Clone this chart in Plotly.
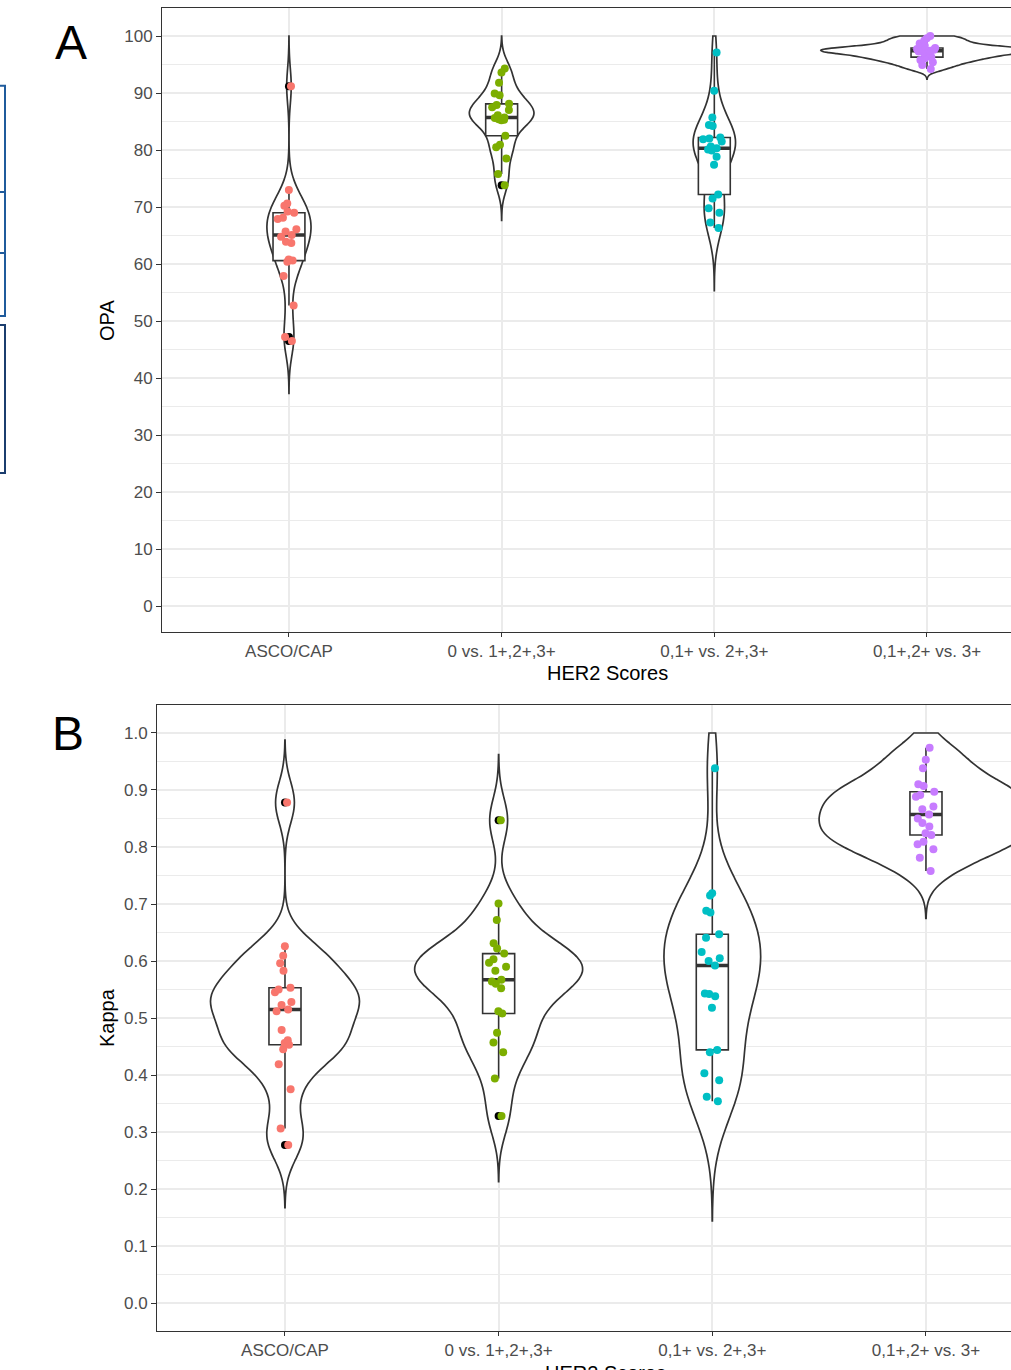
import numpy as np
import plotly.graph_objects as go

# ---------------- data ----------------
categories = ["ASCO/CAP", "0 vs. 1+,2+,3+", "0,1+ vs. 2+,3+", "0,1+,2+ vs. 3+"]
group_colors = ["#F8766D", "#7CAE00", "#00BFC4", "#C77CFF"]

opa_asco = [46.5, 47.2, 52.7, 57.9, 60.4, 60.6, 60.8, 63.7, 63.9, 64.8, 65.1,
            65.7, 66.1, 67.9, 68.1, 69.0, 69.2, 70.2, 70.6, 73.0, 91.2]
opa_0 = [73.8, 75.8, 78.5, 80.5, 80.9, 82.5, 85.2, 85.3, 85.4, 85.6, 85.7,
         86.1, 87.0, 87.5, 87.9, 88.1, 89.6, 89.9, 91.8, 93.6, 94.3]
opa_01 = [66.3, 67.3, 69.0, 69.8, 71.5, 72.2, 77.4, 78.8, 79.9, 80.1, 80.3,
          80.6, 81.5, 81.9, 82.0, 82.2, 84.2, 84.4, 85.7, 90.4, 97.1]
opa_012 = [94.2, 94.9, 95.4, 95.8, 96.1, 96.3, 96.6, 96.9, 97.1, 97.3, 97.4,
           97.5, 97.6, 97.7, 97.8, 97.9, 98.3, 98.7, 99.2, 99.6, 100.0]

kappa_asco = [0.277, 0.306, 0.375, 0.419, 0.445, 0.453, 0.456, 0.461, 0.479, 0.512, 0.515,
              0.523, 0.528, 0.545, 0.550, 0.553, 0.583, 0.596, 0.609, 0.626, 0.878]
kappa_0 = [0.328, 0.394, 0.440, 0.457, 0.474, 0.508, 0.512, 0.552, 0.560, 0.564, 0.567,
           0.583, 0.590, 0.597, 0.603, 0.613, 0.622, 0.631, 0.672, 0.701, 0.847]
kappa_01 = [0.354, 0.362, 0.391, 0.403, 0.440, 0.444, 0.518, 0.538, 0.542, 0.543, 0.592,
            0.600, 0.605, 0.616, 0.641, 0.647, 0.685, 0.688, 0.715, 0.719, 0.938]
kappa_012 = [0.758, 0.781, 0.796, 0.805, 0.809, 0.821, 0.824, 0.836, 0.842, 0.850, 0.857,
             0.866, 0.871, 0.888, 0.891, 0.897, 0.907, 0.910, 0.938, 0.953, 0.974]

opa_ticks = [0, 10, 20, 30, 40, 50, 60, 70, 80, 90, 100]
kappa_ticks = [0.0, 0.1, 0.2, 0.3, 0.4, 0.5, 0.6, 0.7, 0.8, 0.9, 1.0]

# ---------------- layout helpers ----------------
W, H = 1011, 1370
FONT = "Liberation Sans, Arial, Helvetica, sans-serif"
DARK = "#333333"
GRID = "#EBEBEB"
MAX_VIOLIN_WIDTH = 1.0  # full width (category units) of the widest violin in a panel


def px_x(p):
    return p / W


def px_y(p):
    return 1 - p / H


def nrd0(v):
    v = np.asarray(v, float)
    sd = v.std(ddof=1)
    q75, q25 = np.percentile(v, [75, 25])
    return 0.9 * min(sd, (q75 - q25) / 1.34) * len(v) ** -0.2


def kde_peak(v, bw, lo, hi):
    # peak of the gaussian KDE on the same grid plotly samples (step = bw/3)
    v = np.asarray(v, float)
    n = int(np.ceil((hi - lo) / (bw / 3)))
    t = np.linspace(lo, hi, n + 1)
    d = np.exp(-0.5 * ((t[:, None] - v[None, :]) / bw) ** 2).sum(axis=1)
    return d.max() / (len(v) * bw * np.sqrt(2 * np.pi))


panels = [
    dict(key="A", xa="x", ya="y", data=[opa_asco, opa_0, opa_01, opa_012], cap=(0, 100),
         ticks=opa_ticks, fmt=None, minor=5, title="OPA",
         left=162, top=8, bottom=632, yrange=[-4.561, 104.912], xrange=[0.403, 4.395],
         title_y=321, xtitle_y=673, letter_xy=(71, 42)),
    dict(key="B", xa="x2", ya="y2", data=[kappa_asco, kappa_0, kappa_01, kappa_012], cap=(0, 1.0),
         ticks=kappa_ticks, fmt=".1f", minor=0.05, title="Kappa",
         left=157, top=705, bottom=1331, yrange=[-0.0491, 1.0491], xrange=[0.401, 4.398],
         title_y=1018, xtitle_y=1373, letter_xy=(68, 733)),
]

fig = go.Figure()
annotations = []

for p in panels:
    # violin stats: ggplot-like bandwidth (nrd0), trim=FALSE (3 bw), clipped to scale limits
    stats = []
    for vals in p["data"]:
        bw = nrd0(vals)
        lo = max(min(vals) - 3 * bw, p["cap"][0])
        hi = min(max(vals) + 3 * bw, p["cap"][1])
        stats.append((bw, lo, hi, kde_peak(vals, bw, lo, hi)))
    panel_peak = max(s[3] for s in stats)

    # violins, area-scaled within the panel
    for i, vals in enumerate(p["data"]):
        bw, lo, hi, pk = stats[i]
        fig.add_trace(go.Violin(
            y=vals, x0=i + 1, xaxis=p["xa"], yaxis=p["ya"],
            width=MAX_VIOLIN_WIDTH * pk / panel_peak, scalemode="width",
            scalegroup=f"{p['key']}{i}",
            bandwidth=bw, spanmode="manual", span=[lo, hi],
            fillcolor="white", line=dict(color=DARK, width=1.7),
            points=False, box_visible=False, meanline_visible=False,
            hoverinfo="skip", showlegend=False, name=categories[i]))
    # boxplots with black outliers
    for i, vals in enumerate(p["data"]):
        fig.add_trace(go.Box(
            y=vals, x0=i + 1, xaxis=p["xa"], yaxis=p["ya"], width=0.15,
            fillcolor="white", line=dict(color=DARK, width=1.6), whiskerwidth=0,
            boxpoints="outliers", quartilemethod="inclusive", pointpos=0, jitter=0,
            marker=dict(color="black", size=8, line=dict(width=0)),
            hoverinfo="skip", showlegend=False, name=categories[i]))
        m = float(np.median(vals))
        fig.add_trace(go.Box(
            x=[i + 1], q1=[m], median=[m], q3=[m], lowerfence=[m], upperfence=[m],
            xaxis=p["xa"], yaxis=p["ya"], width=0.15,
            fillcolor="rgba(0,0,0,0)", line=dict(color=DARK, width=3.4), whiskerwidth=0,
            hoverinfo="skip", showlegend=False, name=categories[i]))
    # jittered points
    for i, vals in enumerate(p["data"]):
        fig.add_trace(go.Box(
            y=vals, x0=i + 1, xaxis=p["xa"], yaxis=p["ya"], width=0.2,
            boxpoints="all", jitter=0.55, pointpos=0,
            fillcolor="rgba(0,0,0,0)", line=dict(color="rgba(0,0,0,0)", width=0),
            marker=dict(color=group_colors[i], size=8, line=dict(width=0)),
            hoverinfo="skip", showlegend=False, name=categories[i]))

    xname = "xaxis" if p["xa"] == "x" else "xaxis2"
    yname = "yaxis" if p["ya"] == "y" else "yaxis2"
    fig.update_layout({
        xname: dict(
            domain=[px_x(p["left"]), 1.0], range=p["xrange"], type="linear",
            anchor=p["ya"], tickmode="array", tickvals=[1, 2, 3, 4], ticktext=categories,
            showgrid=True, gridcolor=GRID, gridwidth=1.5, zeroline=False,
            ticks="outside", ticklen=4, tickwidth=1, tickcolor=DARK,
            showline=True, linecolor=DARK, linewidth=1, mirror=True,
            tickfont=dict(family=FONT, size=17, color="#4D4D4D")),
        yname: dict(
            domain=[px_y(p["bottom"]), px_y(p["top"])], range=p["yrange"],
            anchor=p["xa"], tickmode="array", tickvals=p["ticks"],
            ticktext=[(f"{t:.1f}" if p["fmt"] else f"{t:g}") for t in p["ticks"]],
            showgrid=True, gridcolor=GRID, gridwidth=1.5, zeroline=False,
            ticks="outside", ticklen=5, tickwidth=1, tickcolor=DARK,
            showline=True, linecolor=DARK, linewidth=1, mirror=False,
            minor=dict(dtick=p["minor"], tick0=0, showgrid=True, gridcolor=GRID,
                       gridwidth=0.8, ticks=""),
            tickfont=dict(family=FONT, size=17, color="#4D4D4D")),
    })

    annotations.append(dict(text=p["title"], xref="paper", yref="paper",
                            x=px_x(107), y=px_y(p["title_y"]), textangle=-90,
                            xanchor="center", yanchor="middle", showarrow=False,
                            font=dict(family=FONT, size=20, color="black")))
    annotations.append(dict(text="HER2 Scores", xref=p["xa"], yref="paper",
                            x=2.5, y=px_y(p["xtitle_y"]),
                            xanchor="center", yanchor="middle", showarrow=False,
                            font=dict(family=FONT, size=20, color="black")))
    annotations.append(dict(text=p["key"], xref="paper", yref="paper",
                            x=px_x(p["letter_xy"][0]), y=px_y(p["letter_xy"][1]),
                            xanchor="center", yanchor="middle", showarrow=False,
                            font=dict(family=FONT, size=48, color="black")))

# blue frame fragments at left edge (cropped figure remnants)
frames = [(85.7, 192, "#1F5B9C"), (192, 253, "#1F5B9C"), (253, 316, "#1F5B9C"),
          (325, 473, "#1B3D6E")]
shapes = [dict(type="rect", xref="paper", yref="paper", x0=px_x(-10), x1=px_x(5),
               y0=px_y(b), y1=px_y(t), line=dict(color=c, width=2),
               fillcolor="rgba(0,0,0,0)") for t, b, c in frames]

fig.update_layout(
    width=W, height=H, margin=dict(l=0, r=0, t=0, b=0),
    paper_bgcolor="white", plot_bgcolor="white",
    violinmode="overlay", boxmode="overlay", showlegend=False,
    annotations=annotations, shapes=shapes,
    font=dict(family=FONT),
)

fig.write_html(
    "out.html",
    config={"displayModeBar": False},
    post_script="document.body.style.margin='0';document.body.style.padding='0';"
                "document.body.style.overflow='hidden';"
                "document.documentElement.style.overflow='hidden';",
)
